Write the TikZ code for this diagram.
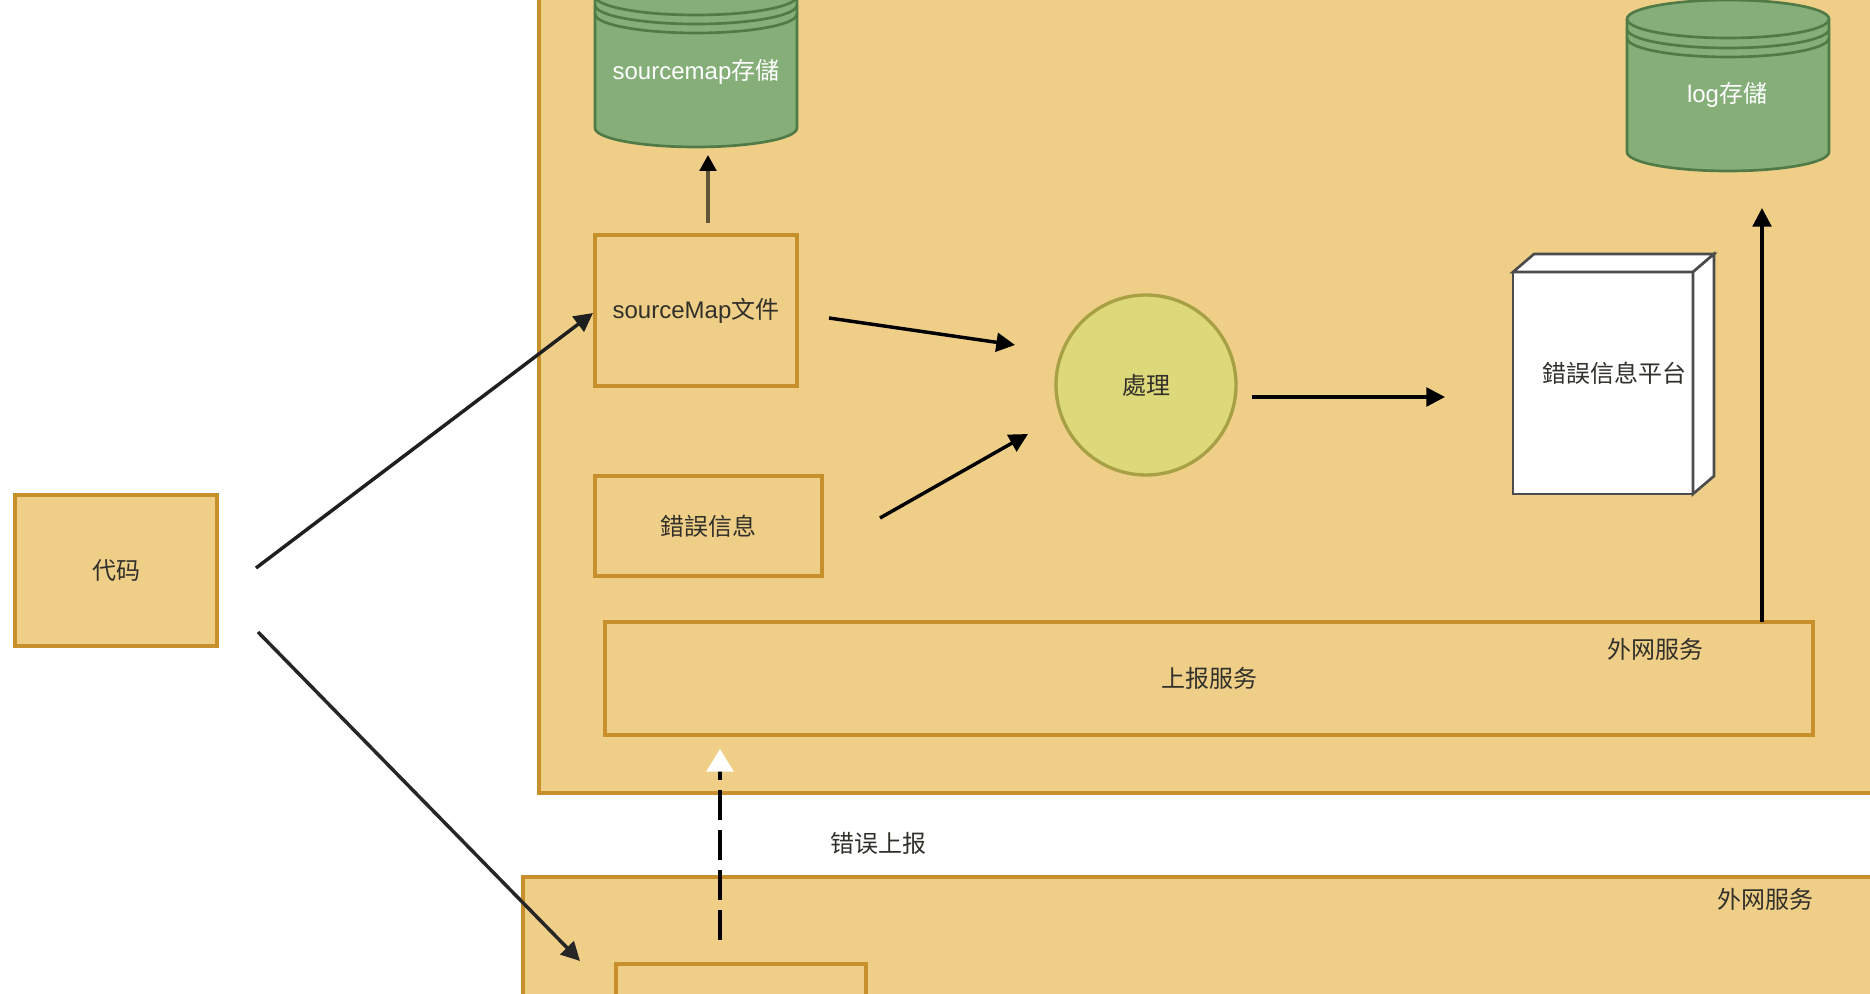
\documentclass[tikz,border=0pt]{standalone}
\usepackage{fontspec}
\setmainfont{Liberation Sans}
\newfontfamily\cjk{Noto Sans CJK SC}
\usetikzlibrary{arrows.meta}
\definecolor{panelfill}{RGB}{239,207,136}
\definecolor{paneldraw}{RGB}{200,144,44}
\definecolor{storefill}{RGB}{133,174,120}
\definecolor{storedraw}{RGB}{80,122,70}
\definecolor{procfill}{RGB}{221,216,122}
\definecolor{procdraw}{RGB}{168,160,68}
\definecolor{labeltext}{RGB}{50,48,42}
\tikzset{
  panel/.style={draw=paneldraw,fill=panelfill,line width=2.5pt},
  boxnode/.style={panel,inner sep=0pt,outer sep=0pt,font=\cjk\fontsize{18}{22}\selectfont,text=labeltext},
  labelnode/.style={inner sep=0pt,font=\cjk\fontsize{18}{22}\selectfont,text=labeltext},
  storelabel/.style={inner sep=0pt,font=\fontsize{18}{22}\selectfont,text=white},
  storeline/.style={draw=storedraw,line width=2pt},
  flow/.style={line width=2.6pt,-{Triangle[length=14pt,width=14pt]}},
}
\begin{document}
\begin{tikzpicture}[x=0.75pt,y=0.75pt,yscale=-1,xscale=1]
\useasboundingbox (0,0) rectangle (1870,994);
\fill[white] (0,0) rectangle (1870,994);
\clip (0,0) rectangle (1870,994);

% outer panels
\draw[panel] (539,-10) rectangle (1885,793);
\draw[panel] (523,877) rectangle (1885,1010);

% boxes
\node[boxnode,minimum width=151.5pt,minimum height=113.25pt] (codeBox) at (116,570.5) {代码};
\node[boxnode,minimum width=151.5pt,minimum height=113.25pt] (mapBox) at (696,310.5) {\rmfamily sourceMap\cjk 文件};
\node[boxnode,minimum width=170.25pt,minimum height=75pt] (errBox) at (708.5,526) {錯誤信息};
\node[boxnode,minimum width=906pt,minimum height=84.75pt] (reportBox) at (1209,678.5) {上报服务};
\node[boxnode,minimum width=187.5pt,minimum height=60pt,anchor=north west] (clientBox) at (616,964) {};
\node[boxnode,circle,draw=procdraw,fill=procfill,minimum size=135pt] (procNode) at (1146,385) {處理};

% stores
\foreach \left/\right/\top/\bottom/\rimA/\rimB/\rimC in {595/797/-23/128/-4/5/14, 1627/1829/19/152/19/29/38}{
  \draw[storeline,fill=storefill] (\left,\top) -- (\left,\bottom) arc (180:0:101 and 19) -- (\right,\top) arc (0:-180:101 and 19) -- cycle;
  \foreach \rim in {\rimA,\rimB,\rimC}
    \draw[storeline] (\left,\rim) arc (180:0:101 and 19);
}
\node[storelabel] (mapStore) at (696,72) {sourcemap{\cjk 存儲}};
\node[storelabel] (logStore) at (1727,95) {log{\cjk 存儲}};

% platform block
\node[boxnode,draw=black!70,fill=white,line width=2pt,minimum width=135pt,minimum height=166.5pt,anchor=north west] (platform) at (1513,272) {};
\draw[draw=black!70,fill=white,line width=2pt] (platform.north west) -- ++(21,-18) -- ++(180,0) -- (platform.north east) -- cycle;
\draw[draw=black!70,fill=white,line width=2pt] (platform.north east) -- ++(21,-18) -- ++(0,222) -- (platform.south east) -- cycle;
\node[labelnode] (platformText) at (1614,373) {錯誤信息平台};

% free labels
\node[labelnode] (netLabelA) at (1655,649) {外网服务};
\node[labelnode] (netLabelB) at (1765,899) {外网服务};
\node[labelnode] (upLabel) at (878,843) {错误上报};

% arrow ends
\coordinate (codeUp) at (256,568);
\coordinate (mapIn) at (593,313);
\coordinate (codeDown) at (258,632);
\coordinate (clientIn) at (580,961);
\coordinate (mapOut) at (829,318);
\coordinate (procInA) at (1015,345);
\coordinate (errOut) at (880,518);
\coordinate (procInB) at (1028,434);
\coordinate (procOut) at (1252,397);
\coordinate (platformIn) at (1445,397);
\coordinate (mapTop) at (708,223);
\coordinate (storeIn) at (708,155);
\coordinate (logIn) at (1762,208);
\coordinate (clientUp) at (720,940);
\coordinate (reportIn) at (720,749);

\draw[flow,draw=black!88] (codeUp) -- (mapIn);
\draw[flow,draw=black!85] (codeDown) -- (clientIn);
\draw[flow] (mapOut) -- (procInA);
\draw[flow] (errOut) -- (procInB);
\draw[flow] (procOut) -- (platformIn);
\draw[line width=2.6pt,draw=black!60!panelfill,-{Triangle[length=12pt,width=12.5pt,black]}] (mapTop) -- (storeIn);
\draw[flow] (reportBox.north -| logIn) -- (logIn);
\draw[line width=3pt,dash pattern=on 22.5pt off 7.5pt,-{Triangle[length=17pt,width=20pt,white]}] (clientUp) -- (reportIn);
\end{tikzpicture}
\end{document}
